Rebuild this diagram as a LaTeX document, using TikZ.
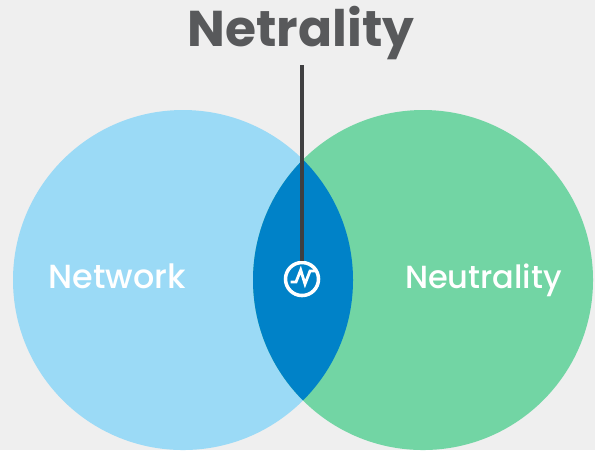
\documentclass[tikz,border=0pt]{standalone}
\usepackage{fontspec}
\setmainfont{Poppins}
\newfontfamily\medfont{Poppins Medium}
\definecolor{bgcol}{HTML}{EFEFEF}
\definecolor{netcol}{HTML}{9BDAF6}
\definecolor{neucol}{HTML}{72D5A4}
\definecolor{lenscol}{HTML}{0082C8}
\definecolor{titlecol}{HTML}{58595B}
\definecolor{stemcol}{HTML}{3F3F41}
\tikzset{
    circlelabel/.style={text=white,anchor=base,font=\fontsize{9.5}{11}\selectfont\medfont},
}
\begin{document}
\begin{tikzpicture}[x=0.01cm,y=-0.01cm]
        \fill[bgcol] (0,0) rectangle (595,450);
        \useasboundingbox (0,0) rectangle (595,450);
        \fill[netcol] (183,280) circle[radius=170];
        \fill[neucol] (423,280) circle[radius=170];
        \begin{scope}
            \clip (183,280) circle[radius=170];
            \fill[lenscol] (423,280) circle[radius=170];
        \end{scope}
        \node[font=\fontsize{14.3}{17}\selectfont\bfseries,text=titlecol,anchor=base] (title) at (301,46.5) {Netrality};
        \node[circlelabel] (network) at (117.5,288) {Network};
        \node[circlelabel,font=\fontsize{9.1}{11}\selectfont\medfont] (neutrality) at (483.5,288) {Neutrality};
        \coordinate (stem) at (302,65);
        \node[circle,draw=white,line width=1pt,minimum size=0.33cm,inner sep=0pt] (icon) at (302,279) {};
        \draw[stemcol,line width=1.2pt] (stem) -- (icon.north);
        \draw[white,line width=0.8pt,line join=miter] (290.7,282) -- (296,282) -- (300.7,270) -- (305,284) -- (310,271) -- (315,271);
    \end{tikzpicture}
\end{document}
